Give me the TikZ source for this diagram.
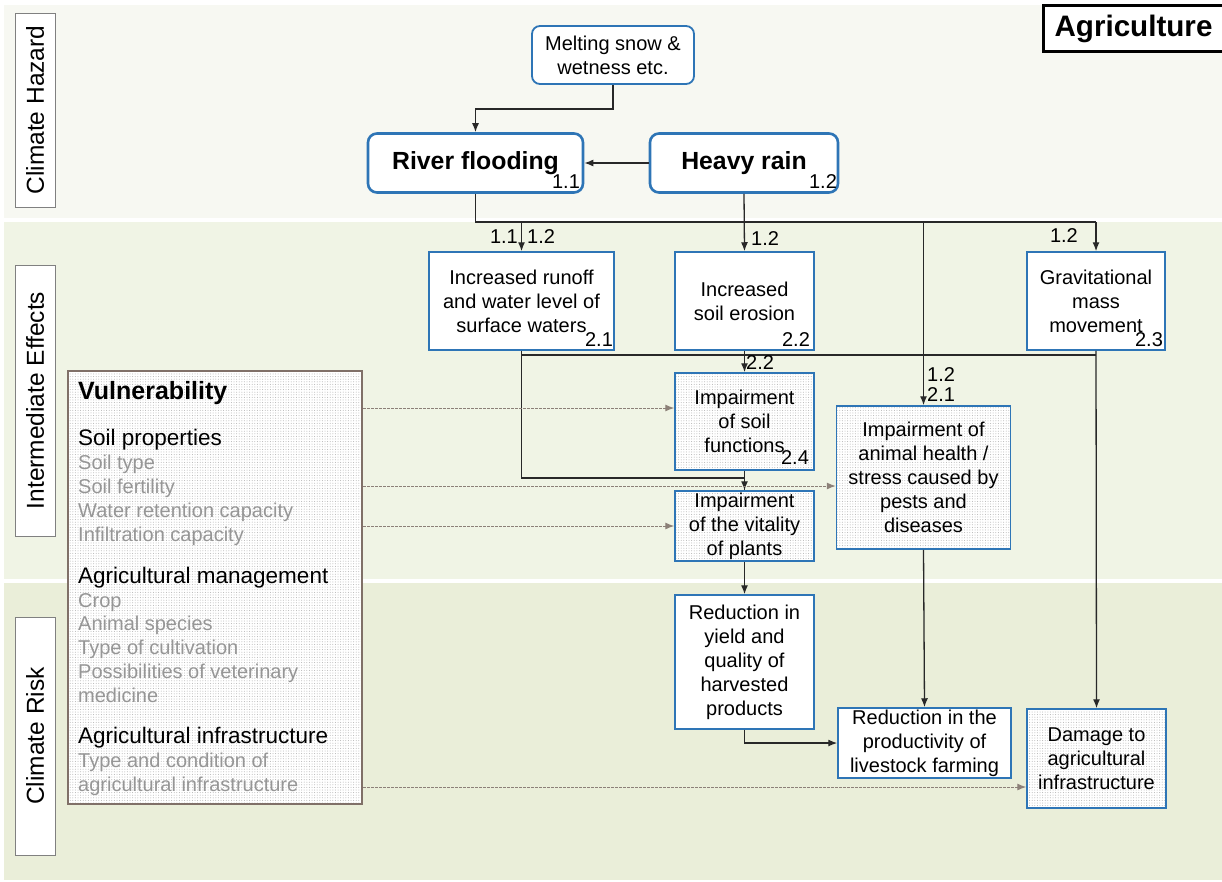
\documentclass[tikz,border=0pt]{standalone}
\usepackage{fontspec}
\setmainfont{Liberation Sans}
\usetikzlibrary{arrows.meta,patterns.meta,calc}
\definecolor{bandA}{RGB}{247,248,242}
\definecolor{bandB}{RGB}{240,244,229}
\definecolor{bandC}{RGB}{234,238,217}
\definecolor{nblue}{RGB}{46,117,182}
\definecolor{vgray}{RGB}{150,150,150}
\definecolor{vbrown}{RGB}{128,112,104}
\definecolor{dashc}{RGB}{140,128,120}
\definecolor{linec}{RGB}{40,40,40}
\newcommand{\fnode}{\fontsize{20}{24}\selectfont}
\begin{document}
\begin{tikzpicture}[x=1pt,y=-1pt,
  dotfill/.style={preaction={fill=white}, pattern={Dots[radius=0.5pt,distance=2.6pt]}, pattern color=black!30},
  box/.style={draw=nblue, line width=1.5pt, fill=white, align=center, inner sep=0pt, font=\fnode},
  dbox/.style={box, dotfill},
  haz/.style={box, rounded corners=8pt, line width=1.8pt},
  hazB/.style={box, rounded corners=9pt, line width=2.6pt, font=\bfseries\fontsize{24.8}{28}\selectfont},
  num/.style={font=\fnode, inner sep=0pt},
  side/.style={draw=black!50, fill=white, line width=0.8pt, rotate=90, font=\fontsize{24.5}{26}\selectfont, inner sep=0pt},
  conn/.style={draw=linec, line width=1.3pt},
  arr/.style={conn, -{Latex[length=9pt,width=7pt]}},
  darr/.style={draw=dashc, line width=1pt, dash pattern=on 2.5pt off 1.5pt, -{Latex[length=9pt,width=7pt]}},
  vhead/.style={anchor=base west, inner sep=0pt, font=\bfseries\fontsize{25}{28}\selectfont},
  vsub/.style={anchor=base west, inner sep=0pt, font=\fontsize{22.5}{26}\selectfont},
  vitem/.style={anchor=base west, inner sep=0pt, text=vgray, font=\fnode}
]
\useasboundingbox (0,0) rectangle (1222,881);
\fill[white] (0,0) rectangle (1222,881);
% bands
\fill[bandA] (4,5) rectangle (1222,218);
\fill[bandB] (4,222) rectangle (1222,579);
\fill[bandC] (4,583) rectangle (1222,880);
% side labels
\node[side, minimum width=194pt, minimum height=40pt] (lhaz) at (35,110) {Climate Hazard};
\node[side, minimum width=271pt, minimum height=40pt] (lint) at (35,400.5) {Intermediate Effects};
\node[side, minimum width=238pt, minimum height=40pt] (lrisk) at (35,736) {Climate Risk};
% title
\node[draw=black, line width=3pt, fill=white, minimum width=181pt, minimum height=46pt, inner sep=0pt, font=\bfseries\fontsize{29.6}{32}\selectfont] (title) at (1133.5,28.5) {Agriculture};
% hazard nodes
\node[haz, minimum width=162pt, minimum height=58pt] (melt) at (613,55) {Melting snow \&\\wetness etc.};
\node[hazB, minimum width=215pt, minimum height=59pt] (flood) at (475.5,163) {River flooding};
\node[hazB, minimum width=188pt, minimum height=59pt] (rain) at (744,163) {Heavy rain};
\node[num] (n11) at (566,182) {1.1};
\node[num] (n12) at (823,182) {1.2};
% intermediate
\node[box, minimum width=185pt, minimum height=98pt] (runoff) at (521.5,301) {Increased runoff\\and water level of\\surface waters};
\node[box, minimum width=139pt, minimum height=98pt] (erosion) at (744.5,301) {Increased\\soil erosion};
\node[box, minimum width=138pt, minimum height=98pt] (grav) at (1096,301) {Gravitational\\mass\\movement};
\node[num] (n21) at (599,340) {2.1};
\node[num] (n22) at (796,340) {2.2};
\node[num] (n23) at (1149,340) {2.3};
\node[dbox, minimum width=139pt, minimum height=97pt] (soil) at (744.5,421.5) {Impairment\\of soil\\functions};
\node[num] (n24) at (795,458) {2.4};
\node[dbox, minimum width=174pt, minimum height=143pt] (animal) at (923.5,477.5) {Impairment of\\animal health /\\stress caused by\\pests and\\diseases};
\node[dbox, minimum width=139pt, minimum height=70pt] (vital) at (744.5,526) {Impairment\\of the vitality\\of plants};
% risk
\node[box, minimum width=139pt, minimum height=134pt] (yield) at (744.5,662) {Reduction in\\yield and\\quality of\\harvested\\products};
\node[box, minimum width=173pt, minimum height=70pt] (live) at (924.5,743) {Reduction in the\\productivity of\\livestock farming};
\node[dbox, minimum width=139pt, minimum height=99pt] (damage) at (1096.5,758.5) {Damage to\\agricultural\\infrastructure};
% vulnerability
\node[draw=vbrown, line width=2.5pt, dotfill, minimum width=294pt, minimum height=433pt, inner sep=0pt] (vuln) at (215,587.5) {};
\node[vhead] (v1) at (78,399.5) {Vulnerability};
\node[vsub] (v2) at (78,445) {Soil properties};
\node[vitem] (v3) at (78,469.5) {Soil type};
\node[vitem] (v4) at (78,493.5) {Soil fertility};
\node[vitem] (v5) at (78,517.5) {Water retention capacity};
\node[vitem] (v6) at (78,541.5) {Infiltration capacity};
\node[vsub] (v7) at (78,583) {Agricultural management};
\node[vitem] (v8) at (78,607.5) {Crop};
\node[vitem] (v9) at (78,630.5) {Animal species};
\node[vitem] (v10) at (78,654.5) {Type of cultivation};
\node[vitem] (v11) at (78,678.5) {Possibilities of veterinary};
\node[vitem] (v12) at (78,702.5) {medicine};
\node[vsub] (v13) at (78,743) {Agricultural infrastructure};
\node[vitem] (v14) at (78,767.5) {Type and condition of};
\node[vitem] (v15) at (78,791.5) {agricultural infrastructure};
% connectors
\draw[arr] (melt.south) -- ++(0,24) -| (flood.north);
\draw[arr] (rain.west) -- (flood.east);
\coordinate (b1L) at (475.5,222);
\coordinate (b1R) at (1096,222);
\draw[conn] (flood.south) -- (b1L) -- (b1R);
\draw[arr] (b1R) -- (grav.north);
\draw[arr] (rain.south) -- (erosion.north);
\draw[arr] (runoff.north |- b1L) -- (runoff.north);
\draw[arr] (animal.north |- b1L) -- (animal.north);
\coordinate (b2L) at (521.5,355);
\draw[conn] (runoff.south) -- (b2L) -- (b2L -| grav.south);
\draw[arr] (grav.south) -- (damage.north);
\coordinate (b3) at (521.5,478);
\draw[arr] (b2L) -- (b3) -| (vital.north);
\draw[arr] (erosion.south) -- (soil.north);
\draw[conn] (soil.south) -- (vital.north);
\draw[arr] (vital.south) -- (yield.north);
\draw[arr] (yield.south) |- (live.west);
\draw[arr] (animal.south) -- (live.north);
% dashed influence arrows
\coordinate (yA) at (0,408);
\coordinate (yB) at (0,486);
\coordinate (yC) at (0,526);
\coordinate (yD) at (0,787);
\draw[darr] (vuln.east |- yA) -- (soil.west |- yA);
\draw[darr] (vuln.east |- yB) -- (animal.west |- yB);
\draw[darr] (vuln.east |- yC) -- (vital.west |- yC);
\draw[darr] (vuln.east |- yD) -- (damage.west |- yD);
% connector labels
\node[num, anchor=east] (l11) at (518,237) {1.1};
\node[num, anchor=west] (l12a) at (527,237) {1.2};
\node[num, anchor=west] (l12b) at (751,239) {1.2};
\node[num, anchor=east] (l12c) at (1078,236) {1.2};
\node[num, anchor=west, align=left, font=\fontsize{20}{20}\selectfont] (l12d) at (927,385) {1.2\\2.1};
\node[num, anchor=west] (l22) at (746,363) {2.2};
\end{tikzpicture}
\end{document}
